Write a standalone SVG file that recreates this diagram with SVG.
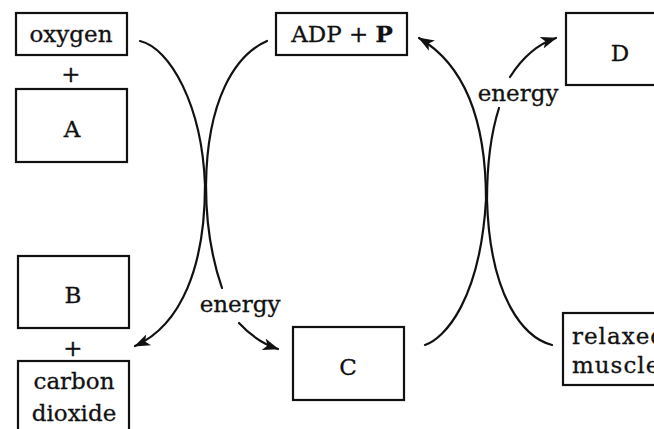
<svg xmlns="http://www.w3.org/2000/svg" width="654" height="429" viewBox="0 0 654 429">
  <style>
    .box { fill: #fff; stroke: #111; stroke-width: 2.2; }
    .lbl { font-family: "DejaVu Serif", "Liberation Serif", serif; font-size: 23px; fill: #111; stroke: #111; stroke-width: 0.3; text-anchor: middle; }
    .left { text-anchor: start; }
    .curve { fill: none; stroke: #111; stroke-width: 2.2; stroke-linecap: round; }
  </style>
  <defs>
    <marker id="head" viewBox="0 0 16 12" refX="15" refY="6" markerWidth="16" markerHeight="12" markerUnits="userSpaceOnUse" orient="auto">
      <path d="M0,0 L16,6 L0,12 L4,6 z" fill="#111"/>
    </marker>
  </defs>
  <rect width="654" height="429" fill="#fff"/>

  <g id="connectors">
    <!-- oxygen + A to B + carbon dioxide -->
    <path class="curve" d="M140,41 C170,48 202,105 205,185 C205,265 182,325 135,346" marker-end="url(#head)"/>
    <!-- ADP + P to C, broken by the energy label -->
    <path class="curve" d="M267,41 C235,55 207,100 206,185 C206,230 213,262 222,288"/>
    <path class="curve" d="M239,323 C250,335 263,344 278,349" marker-end="url(#head)"/>
    <!-- C back to ADP + P -->
    <path class="curve" d="M425,345 C445,338 480,300 486,200 C486,120 465,65 419,38" marker-end="url(#head)"/>
    <!-- relaxed muscle to D, broken by the energy label -->
    <path class="curve" d="M552,345 C525,338 490,300 487,200 C487,160 492,130 499,108"/>
    <path class="curve" d="M510,77 C522,58 538,44 556,38" marker-end="url(#head)"/>
  </g>

  <g id="oxygen">
    <rect class="box" x="16" y="13" width="111" height="42"/>
    <text class="lbl" x="71" y="42">oxygen</text>
  </g>
  <g id="plus-top">
    <text class="lbl" x="71" y="82">+</text>
  </g>
  <g id="A">
    <rect class="box" x="16" y="89" width="111" height="73"/>
    <text class="lbl" x="72" y="137">A</text>
  </g>
  <g id="B">
    <rect class="box" x="18" y="256" width="111" height="72"/>
    <text class="lbl" x="73" y="303">B</text>
  </g>
  <g id="plus-bottom">
    <text class="lbl" x="73" y="356">+</text>
  </g>
  <g id="carbon-dioxide">
    <rect class="box" x="18" y="361" width="111" height="80"/>
    <text class="lbl" x="74" y="389">carbon</text>
    <text class="lbl" x="74" y="421">dioxide</text>
  </g>
  <g id="adp-p">
    <rect class="box" x="276" y="13" width="131" height="42"/>
    <text class="lbl" x="342" y="42">ADP + <tspan font-weight="bold">P</tspan></text>
  </g>
  <g id="C">
    <rect class="box" x="293" y="327" width="111" height="73"/>
    <text class="lbl" x="348" y="375">C</text>
  </g>
  <g id="D">
    <rect class="box" x="566" y="13" width="120" height="72"/>
    <text class="lbl" x="620" y="61">D</text>
  </g>
  <g id="relaxed-muscle">
    <rect class="box" x="563" y="313" width="120" height="72"/>
    <text class="lbl left" x="572" y="344" letter-spacing="1">relaxed</text>
    <text class="lbl left" x="572" y="373" letter-spacing="1">muscle</text>
  </g>
  <g id="energy-labels">
    <text class="lbl" x="240" y="312">energy</text>
    <text class="lbl" x="518" y="101">energy</text>
  </g>
</svg>
